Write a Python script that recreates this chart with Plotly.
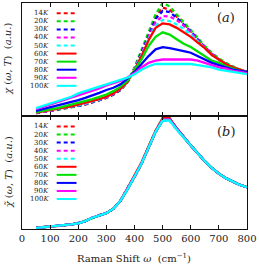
import plotly.graph_objects as go

# Raman shift grid (cm^-1)
omega = [50, 75, 100, 125, 150, 175, 200, 225, 250, 275, 300, 325, 350, 375, 400,
         425, 450, 475, 500, 525, 550, 575, 600, 625, 650, 675, 700, 725, 750, 775, 800]

temps = ["14K", "20K", "30K", "40K", "50K", "60K", "70K", "80K", "90K", "100K"]
colors = ["#ff0000", "#00e000", "#0000ff", "#ff00ff", "#00ffff",
          "#ff0000", "#00e000", "#0000ff", "#ff00ff", "#00ffff"]
dashes = ["dash"] * 5 + ["solid"] * 5

# panel (a): chi(omega, T), arbitrary units
chi_14K = [0.025, 0.035, 0.045, 0.055, 0.065, 0.075, 0.09, 0.10, 0.12, 0.14, 0.16, 0.19, 0.23, 0.30, 0.42,
           0.56, 0.72, 0.88, 0.96, 0.94, 0.88, 0.82, 0.75, 0.68, 0.61, 0.55, 0.50, 0.46, 0.43, 0.41, 0.39]
chi_20K = [0.03, 0.035, 0.045, 0.055, 0.065, 0.08, 0.09, 0.105, 0.12, 0.14, 0.16, 0.19, 0.23, 0.30, 0.43,
           0.58, 0.74, 0.90, 1.00, 0.97, 0.90, 0.83, 0.76, 0.69, 0.62, 0.56, 0.51, 0.47, 0.44, 0.41, 0.39]
chi_30K = [0.025, 0.035, 0.045, 0.055, 0.07, 0.08, 0.09, 0.105, 0.12, 0.14, 0.165, 0.19, 0.23, 0.30, 0.42,
           0.56, 0.71, 0.86, 0.93, 0.92, 0.87, 0.81, 0.75, 0.68, 0.61, 0.55, 0.50, 0.46, 0.43, 0.41, 0.39]
chi_40K = [0.03, 0.035, 0.045, 0.06, 0.07, 0.08, 0.095, 0.11, 0.125, 0.145, 0.165, 0.195, 0.235, 0.30, 0.42,
           0.55, 0.70, 0.83, 0.885, 0.88, 0.85, 0.80, 0.74, 0.67, 0.61, 0.55, 0.50, 0.46, 0.43, 0.41, 0.39]
chi_50K = [0.03, 0.04, 0.05, 0.06, 0.07, 0.08, 0.095, 0.11, 0.125, 0.145, 0.17, 0.20, 0.24, 0.30, 0.42,
           0.54, 0.68, 0.80, 0.85, 0.84, 0.81, 0.77, 0.72, 0.66, 0.60, 0.54, 0.50, 0.46, 0.43, 0.41, 0.39]
chi_60K = [0.03, 0.04, 0.05, 0.06, 0.075, 0.085, 0.10, 0.115, 0.13, 0.15, 0.17, 0.20, 0.24, 0.30, 0.41,
           0.53, 0.67, 0.78, 0.82, 0.81, 0.78, 0.74, 0.70, 0.65, 0.60, 0.54, 0.50, 0.46, 0.43, 0.41, 0.39]
chi_70K = [0.035, 0.045, 0.06, 0.07, 0.085, 0.10, 0.115, 0.13, 0.15, 0.17, 0.19, 0.22, 0.26, 0.31, 0.40,
           0.50, 0.62, 0.70, 0.74, 0.72, 0.68, 0.64, 0.61, 0.57, 0.53, 0.49, 0.47, 0.44, 0.42, 0.40, 0.39]
chi_80K = [0.045, 0.06, 0.075, 0.09, 0.105, 0.12, 0.14, 0.16, 0.18, 0.205, 0.23, 0.25, 0.28, 0.33, 0.39,
           0.46, 0.53, 0.59, 0.61, 0.60, 0.59, 0.575, 0.56, 0.53, 0.50, 0.47, 0.45, 0.43, 0.41, 0.40, 0.39]
chi_90K = [0.06, 0.08, 0.10, 0.12, 0.14, 0.16, 0.18, 0.20, 0.22, 0.245, 0.27, 0.29, 0.31, 0.34, 0.38,
           0.43, 0.47, 0.49, 0.50, 0.50, 0.50, 0.50, 0.50, 0.49, 0.47, 0.45, 0.43, 0.42, 0.40, 0.39, 0.38]
chi_100K = [0.07, 0.09, 0.11, 0.13, 0.15, 0.17, 0.20, 0.22, 0.24, 0.26, 0.28, 0.30, 0.32, 0.34, 0.37,
            0.41, 0.44, 0.46, 0.46, 0.46, 0.465, 0.465, 0.46, 0.45, 0.44, 0.43, 0.41, 0.40, 0.39, 0.38, 0.37]

# panel (b): normalised chi~(omega, T)
cht_14K = [0.01, 0.015, 0.02, 0.025, 0.03, 0.04, 0.05, 0.07, 0.10, 0.12, 0.14, 0.18, 0.25, 0.36, 0.46,
           0.58, 0.72, 0.86, 0.97, 0.97, 0.89, 0.81, 0.74, 0.67, 0.60, 0.54, 0.49, 0.45, 0.42, 0.39, 0.37]
cht_20K = [0.01, 0.015, 0.02, 0.03, 0.035, 0.04, 0.05, 0.075, 0.10, 0.12, 0.145, 0.18, 0.25, 0.35, 0.46,
           0.58, 0.73, 0.87, 0.98, 0.98, 0.89, 0.81, 0.74, 0.67, 0.60, 0.54, 0.49, 0.45, 0.42, 0.39, 0.37]
cht_30K = [0.01, 0.015, 0.02, 0.025, 0.03, 0.04, 0.055, 0.07, 0.10, 0.12, 0.14, 0.18, 0.25, 0.36, 0.46,
           0.58, 0.72, 0.86, 0.97, 0.97, 0.89, 0.81, 0.74, 0.67, 0.60, 0.54, 0.49, 0.45, 0.42, 0.39, 0.37]
cht_40K = [0.01, 0.015, 0.02, 0.025, 0.035, 0.04, 0.05, 0.07, 0.10, 0.125, 0.14, 0.18, 0.25, 0.36, 0.46,
           0.58, 0.72, 0.86, 0.97, 0.96, 0.88, 0.81, 0.74, 0.67, 0.60, 0.54, 0.49, 0.45, 0.42, 0.39, 0.37]
cht_50K = [0.01, 0.015, 0.02, 0.025, 0.03, 0.04, 0.05, 0.07, 0.10, 0.12, 0.14, 0.18, 0.25, 0.36, 0.46,
           0.58, 0.72, 0.86, 0.96, 0.96, 0.88, 0.81, 0.74, 0.67, 0.60, 0.54, 0.49, 0.45, 0.42, 0.39, 0.37]
cht_60K = [0.015, 0.015, 0.02, 0.025, 0.03, 0.04, 0.05, 0.07, 0.10, 0.12, 0.14, 0.18, 0.25, 0.36, 0.47,
           0.59, 0.73, 0.87, 0.98, 0.98, 0.89, 0.81, 0.74, 0.67, 0.60, 0.54, 0.49, 0.45, 0.42, 0.39, 0.37]
cht_70K = [0.01, 0.015, 0.02, 0.025, 0.03, 0.04, 0.05, 0.07, 0.095, 0.12, 0.14, 0.18, 0.25, 0.36, 0.46,
           0.58, 0.72, 0.86, 0.97, 0.97, 0.89, 0.81, 0.74, 0.67, 0.60, 0.54, 0.49, 0.45, 0.42, 0.39, 0.37]
cht_80K = [0.01, 0.015, 0.02, 0.025, 0.03, 0.04, 0.05, 0.07, 0.10, 0.12, 0.14, 0.18, 0.25, 0.35, 0.46,
           0.58, 0.72, 0.86, 0.96, 0.97, 0.89, 0.81, 0.74, 0.67, 0.60, 0.54, 0.49, 0.45, 0.42, 0.39, 0.37]
cht_90K = [0.01, 0.015, 0.02, 0.025, 0.03, 0.04, 0.05, 0.07, 0.10, 0.12, 0.14, 0.18, 0.25, 0.36, 0.46,
           0.58, 0.72, 0.86, 0.97, 0.97, 0.89, 0.81, 0.74, 0.67, 0.60, 0.54, 0.49, 0.45, 0.42, 0.39, 0.37]
cht_100K = [0.01, 0.015, 0.02, 0.025, 0.03, 0.04, 0.05, 0.07, 0.10, 0.12, 0.14, 0.18, 0.25, 0.35, 0.46,
            0.58, 0.72, 0.86, 0.96, 0.96, 0.88, 0.81, 0.74, 0.67, 0.60, 0.54, 0.49, 0.45, 0.42, 0.39, 0.37]

x_ticks = [0, 100, 200, 300, 400, 500, 600, 700, 800]

chi_all = [chi_14K, chi_20K, chi_30K, chi_40K, chi_50K, chi_60K, chi_70K, chi_80K, chi_90K, chi_100K]
cht_all = [cht_14K, cht_20K, cht_30K, cht_40K, cht_50K, cht_60K, cht_70K, cht_80K, cht_90K, cht_100K]

SERIF = "DejaVu Serif"
DASH = "4px,3px"
fig = go.Figure()

for name, col, dsh, ya in zip(temps, colors, dashes, chi_all):
    fig.add_trace(go.Scatter(x=omega, y=ya, mode="lines", name=name, showlegend=False,
                             line=dict(color=col, width=2.3, dash=dsh if dsh == "solid" else DASH),
                             xaxis="x", yaxis="y"))
for name, col, dsh, yb in zip(temps, colors, dashes, cht_all):
    fig.add_trace(go.Scatter(x=omega, y=yb, mode="lines", name=name, showlegend=False,
                             line=dict(color=col, width=2.3, dash=dsh if dsh == "solid" else DASH),
                             xaxis="x2", yaxis="y2"))

W, H = 259, 267
ML, MR, MT, MB = 22, 10, 2, 38
PW, PH = W - ML - MR, H - MT - MB


def px(xp):
    return (xp - ML) / PW


def py(yp):
    return (H - MB - yp) / PH


shapes = []
annotations = []
for top0 in (12.3, 126.0):
    for i, (name, col, dsh) in enumerate(zip(temps, colors, dashes)):
        yy = py(top0 + 8.1 * i)
        shapes.append(dict(type="line", xref="paper", yref="paper", x0=px(57), x1=px(77), y0=yy, y1=yy,
                           line=dict(color=col, width=2, dash="solid" if dsh == "solid" else DASH)))
        annotations.append(dict(xref="paper", yref="paper", x=px(51), y=yy, xanchor="right", yanchor="middle",
                                text=name[:-1] + "<i>K</i>", showarrow=False,
                                font=dict(family=SERIF, size=7, color="#222")))

annotations += [
    dict(xref="paper", yref="paper", x=px(228.3), y=py(17), text="(<i>a</i>)", showarrow=False,
         font=dict(family=SERIF, size=13, color="#222"), xanchor="center", yanchor="middle"),
    dict(xref="paper", yref="paper", x=px(227.5), y=py(131), text="(<i>b</i>)", showarrow=False,
         font=dict(family=SERIF, size=13, color="#222"), xanchor="center", yanchor="middle"),
    dict(xref="paper", yref="paper", x=px(8), y=py(58), textangle=-90,
         text="<i>χ</i> (<i>ω</i>, <i>T</i>)  (<i>a.u.</i>)", showarrow=False,
         font=dict(family=SERIF, size=10, color="#222"), xanchor="center", yanchor="middle"),
    dict(xref="paper", yref="paper", x=px(8), y=py(172), textangle=-90,
         text="<i>χ̃</i> (<i>ω</i>, <i>T</i>)  (<i>a.u.</i>)", showarrow=False,
         font=dict(family=SERIF, size=10, color="#222"), xanchor="center", yanchor="middle"),
    dict(xref="paper", yref="paper", x=px(135), y=py(258),
         text="Raman Shift <i>ω</i>  (cm<sup>−1</sup>)", showarrow=False,
         font=dict(family=SERIF, size=10, color="#222"), xanchor="center", yanchor="middle"),
]

xcommon = dict(range=[0, 800], tickvals=x_ticks, ticks="inside", ticklen=4, tickwidth=1,
               tickcolor="#111", showline=True, linecolor="#111", linewidth=1.3, mirror="ticks",
               showgrid=False, zeroline=False)
ycommon = dict(range=[0, 1], showticklabels=False, ticks="", showline=True, linecolor="#111",
               linewidth=1.3, mirror=True, showgrid=False, zeroline=False)

fig.update_layout(
    width=W, height=H,
    margin=dict(l=ML, r=MR, t=MT, b=MB),
    paper_bgcolor="white", plot_bgcolor="white",
    showlegend=False,
    xaxis=dict(**xcommon, anchor="y", showticklabels=False),
    yaxis=dict(**ycommon, domain=[0.5, 1], anchor="x"),
    xaxis2=dict(**xcommon, anchor="y2", showticklabels=True,
                tickfont=dict(family=SERIF, size=10, color="#222")),
    yaxis2=dict(**ycommon, domain=[0, 0.5], anchor="x2"),
    shapes=shapes,
    annotations=annotations,
)

fig.write_html("out.html", config={"displayModeBar": False},
               post_script="document.body.style.margin='0';document.body.style.overflow='hidden';")
